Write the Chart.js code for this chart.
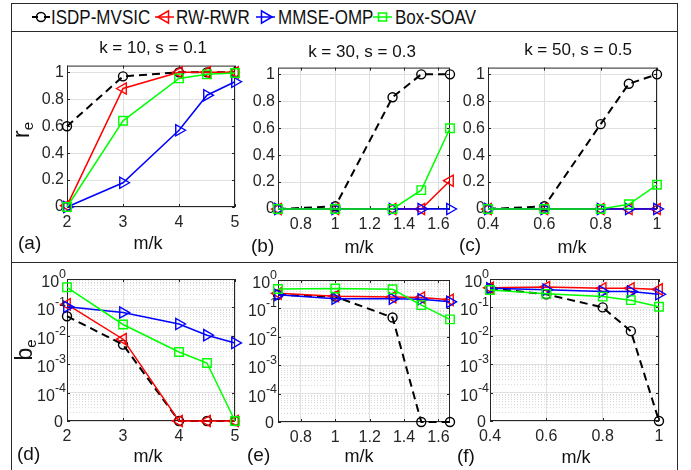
<!DOCTYPE html>
<html>
<head>
<meta charset="utf-8">
<script src="https://cdn.jsdelivr.net/npm/chart.js@4.4.0/dist/chart.umd.min.js"></script>
<style>
  body { margin:0; background:#fff; width:691px; height:470px; position:relative; overflow:hidden;
         font-family:"Liberation Sans", Arial, sans-serif; color:#111; }
  canvas { position:absolute; }
  .hline { position:absolute; height:0; border-top:1.5px solid #2a2a2a; }
  .vline { position:absolute; width:0; border-left:1.5px solid #2a2a2a; }
  .title { position:absolute; font-size:17px; transform:translate(-50%,-50%); white-space:nowrap; }
  .xlab { position:absolute; font-size:18px; transform:translate(-50%,-50%); white-space:nowrap; }
  .plab { position:absolute; font-size:19px; transform:translateY(-50%); }
  .ylab { position:absolute; font-size:23px; transform:translate(-50%,-50%) rotate(-90deg); white-space:nowrap; }
  .ylab sub { font-size:15px; vertical-align:-4px; }
  .leg { position:absolute; top:4px; font-size:21px; line-height:26px; transform-origin:left center;
         transform:scaleX(0.81); white-space:nowrap; }
</style>
</head>
<body>

<!-- figure frame -->
<div class="hline" style="left:11px; top:3px; width:667px;"></div>
<div class="hline" style="left:11px; top:31px; width:667px;"></div>
<div class="hline" style="left:11px; top:262px; width:667px;"></div>
<div class="vline" style="left:11px; top:3px; height:467px;"></div>
<div class="vline" style="left:677px; top:3px; height:467px;"></div>

<!-- legend -->
<svg style="position:absolute; left:0; top:0;" width="691" height="34">
  <line x1="32" y1="17" x2="50" y2="17" stroke="#000" stroke-width="2" stroke-dasharray="6,6"/>
  <circle cx="41" cy="17" r="4.5" fill="none" stroke="#000" stroke-width="1.5"/>
  <line x1="155" y1="17" x2="174" y2="17" stroke="#ff0000" stroke-width="1.5"/>
  <polygon points="158,17 168.5,10.9 168.5,23.1" fill="none" stroke="#ff0000" stroke-width="1.5"/>
  <line x1="256" y1="17" x2="275" y2="17" stroke="#0000ff" stroke-width="1.5"/>
  <polygon points="272,17 261.5,10.9 261.5,23.1" fill="none" stroke="#0000ff" stroke-width="1.5"/>
  <line x1="373" y1="17" x2="392" y2="17" stroke="#00ff00" stroke-width="1.5"/>
  <rect x="378.5" y="13" width="8" height="8" fill="none" stroke="#00ff00" stroke-width="1.5"/>
</svg>
<div class="leg" style="left:51px;">ISDP-MVSIC</div>
<div class="leg" style="left:176px;">RW-RWR</div>
<div class="leg" style="left:278px;">MMSE-OMP</div>
<div class="leg" style="left:395px;">Box-SOAV</div>

<!-- panels -->
<canvas id="pa" width="237" height="182" style="left:12px; top:53px;"></canvas>
<canvas id="pb" width="241" height="182" style="left:223px; top:55px;"></canvas>
<canvas id="pc" width="238" height="182" style="left:433px; top:55px;"></canvas>
<canvas id="pd" width="237" height="182" style="left:12px; top:267px;"></canvas>
<canvas id="pe" width="241" height="182" style="left:223px; top:268px;"></canvas>
<canvas id="pf" width="238" height="182" style="left:435px; top:267px;"></canvas>

<div class="title" style="left:153px; top:48px;">k = 10, s = 0.1</div>
<div class="title" style="left:362px; top:52px;">k = 30, s = 0.3</div>
<div class="title" style="left:578px; top:50px;">k = 50, s = 0.5</div>

<div class="ylab" style="left:22px; top:130px;">r<sub>e</sub></div>
<div class="ylab" style="left:25px; top:350px;">b<sub>e</sub></div>

<div class="xlab" style="left:148px; top:243px;">m/k</div>
<div class="xlab" style="left:359px; top:247px;">m/k</div>
<div class="xlab" style="left:572px; top:247px;">m/k</div>
<div class="xlab" style="left:148px; top:456px;">m/k</div>
<div class="xlab" style="left:359px; top:456px;">m/k</div>
<div class="xlab" style="left:576px; top:457px;">m/k</div>

<div class="plab" style="left:18px; top:243px;">(a)</div>
<div class="plab" style="left:251px; top:246px;">(b)</div>
<div class="plab" style="left:459px; top:245px;">(c)</div>
<div class="plab" style="left:17px; top:454px;">(d)</div>
<div class="plab" style="left:247px; top:455px;">(e)</div>
<div class="plab" style="left:457px; top:456px;">(f)</div>

<script>
// m/k for each column
const mkA = [2, 3, 4, 4.5, 5];
const mkB = [0.667, 1, 1.333, 1.5, 1.667];
const mkC = [0.4, 0.6, 0.8, 0.9, 1];

const xTicksA = [2, 3, 4, 5];
const xLabelsA = ['2', '3', '4', '5'];
const xTicksB = [0.8, 1, 1.2, 1.4, 1.6];
const xLabelsB = ['0.8', '1', '1.2', '1.4', '1.6'];
const xTicksC = [0.4, 0.6, 0.8, 1];
const xLabelsC = ['0.4', '0.6', '0.8', '1'];

const reTicks = [0, 0.2, 0.4, 0.6, 0.8, 1];
const reTickLabels = ['0', '0.2', '0.4', '0.6', '0.8', '1'];
// be axis: 0 sits one decade under 10^-4
const beTicks = [-5, -4, -3, -2, -1, 0];
const beTickLabels = ['0', '10^-4', '10^-3', '10^-2', '10^-1', '10^0'];

const methods = ['ISDP-MVSIC', 'RW-RWR', 'MMSE-OMP', 'Box-SOAV'];

// r_e, k = 10
const reA_isdp  = [0.60, 0.97, 1.00, 1.00, 1.00];
const reA_rwrwr = [0.01, 0.88, 1.00, 1.00, 1.00];
const reA_mmse  = [0.00, 0.18, 0.57, 0.83, 0.93];
const reA_box   = [0.00, 0.64, 0.955, 0.985, 0.995];
// r_e, k = 30
const reB_isdp  = [0.00, 0.02, 0.83, 1.00, 1.00];
const reB_rwrwr = [0, 0, 0, 0, 0.21];
const reB_mmse  = [0, 0, 0, 0, 0];
const reB_box   = [0, 0, 0, 0.14, 0.60];
// r_e, k = 50
const reC_isdp  = [0.00, 0.02, 0.63, 0.93, 1.00];
const reC_rwrwr = [0, 0, 0, 0, 0];
const reC_mmse  = [0, 0, 0, 0, 0];
const reC_box   = [0, 0, 0, 0.035, 0.18];

// b_e, k = 10
const beD_isdp  = [0.049, 0.0049, 0, 0, 0];
const beD_rwrwr = [0.128, 0.0076, 0, 0, 0];
const beD_mmse  = [0.105, 0.066, 0.026, 0.0105, 0.0056];
const beD_box   = [0.51, 0.025, 0.0027, 0.0011, 0];
// b_e, k = 30
const beE_isdp  = [0.30, 0.26, 0.048, 0, 0];
const beE_rwrwr = [0.34, 0.27, 0.25, 0.24, 0.20];
const beE_mmse  = [0.30, 0.22, 0.22, 0.21, 0.17];
const beE_box   = [0.48, 0.50, 0.47, 0.13, 0.041];
// b_e, k = 50
const beF_isdp  = [0.47, 0.29, 0.10, 0.0146, 0];
const beF_rwrwr = [0.49, 0.52, 0.47, 0.47, 0.43];
const beF_mmse  = [0.47, 0.42, 0.36, 0.36, 0.29];
const beF_box   = [0.41, 0.30, 0.24, 0.18, 0.105];

var FONT = '"Liberation Sans", Arial, sans-serif';
var TXT = '#262626';

var looks = [
  {color: '#000000', pointStyle: 'circle',   radius: 4.5, rot: 0,   dash: [8, 5], width: 2,   order: 4},
  {color: '#ff0000', pointStyle: 'triangle', radius: 6.5, rot: -90, dash: [],     width: 1.5, order: 3},
  {color: '#0000ff', pointStyle: 'triangle', radius: 6.5, rot: 90,  dash: [],     width: 1.5, order: 2},
  {color: '#00ff00', pointStyle: 'rect',     radius: 6,   rot: 0,   dash: [],     width: 1.5, order: 1}
];

function toLog(v) {
  return v <= 0 ? -5 : Math.log10(v);
}

// box, inward ticks, minor log grid, and 10^n labels
var boxer = {
  id: 'boxer',
  beforeDatasetsDraw: function(chart, args, opts) {
    var ctx = chart.ctx, a = chart.chartArea, sx = chart.scales.x, sy = chart.scales.y;
    ctx.save();
    if (opts.log) {
      ctx.strokeStyle = '#dadada';
      ctx.lineWidth = 1;
      ctx.setLineDash([1, 2]);
      for (var d = -5; d < 0; d++) {
        for (var m = 2; m <= 9; m++) {
          var yy = Math.round(sy.getPixelForValue(d + Math.log10(m))) + 0.5;
          ctx.beginPath(); ctx.moveTo(a.left, yy); ctx.lineTo(a.right, yy); ctx.stroke();
        }
      }
      ctx.setLineDash([]);
    }
    ctx.strokeStyle = '#262626';
    ctx.lineWidth = 1;
    ctx.strokeRect(a.left + 0.5, a.top + 0.5, a.right - a.left - 1, a.bottom - a.top - 1);
    ctx.beginPath();
    sx.ticks.forEach(function(t) {
      var x = Math.round(sx.getPixelForValue(t.value)) + 0.5;
      ctx.moveTo(x, a.bottom); ctx.lineTo(x, a.bottom - 3);
      ctx.moveTo(x, a.top); ctx.lineTo(x, a.top + 3);
    });
    sy.ticks.forEach(function(t) {
      var y = Math.round(sy.getPixelForValue(t.value)) + 0.5;
      ctx.moveTo(a.left, y); ctx.lineTo(a.left + 3, y);
      ctx.moveTo(a.right, y); ctx.lineTo(a.right - 3, y);
    });
    ctx.stroke();
    ctx.restore();
  },
  afterDraw: function(chart, args, opts) {
    if (!opts.log) return;
    var ctx = chart.ctx, a = chart.chartArea, sy = chart.scales.y;
    var right = a.left - 1;
    ctx.save();
    ctx.fillStyle = TXT;
    ctx.textAlign = 'left';
    ctx.textBaseline = 'alphabetic';
    beTicks.forEach(function(v, i) {
      var y = sy.getPixelForValue(v);
      var parts = beTickLabels[i].split('^');
      if (parts.length == 1) {
        ctx.font = '16px ' + FONT;
        ctx.fillText(parts[0], right - 3 - ctx.measureText(parts[0]).width, y + 6);
      } else {
        ctx.font = '12.5px ' + FONT;
        var we = ctx.measureText(parts[1]).width;
        ctx.fillText(parts[1], right - we, y - 1);
        ctx.font = '16px ' + FONT;
        var wb = ctx.measureText(parts[0]).width;
        ctx.fillText(parts[0], right - we - wb, y + 8);
      }
    });
    ctx.restore();
  }
};

function makePanel(id, xs, series, xTicks, xLabels, logY) {
  var datasets = series.map(function(vals, i) {
    var lk = looks[i];
    return {
      label: methods[i],
      data: vals.map(function(v, j) { return {x: xs[j], y: logY ? toLog(v) : v}; }),
      borderColor: lk.color,
      borderWidth: lk.width,
      borderDash: lk.dash,
      pointStyle: lk.pointStyle,
      pointRadius: lk.radius,
      pointRotation: lk.rot,
      pointBorderColor: lk.color,
      pointBackgroundColor: 'rgba(0,0,0,0)',
      pointBorderWidth: 1.4,
      tension: 0,
      clip: false,
      order: lk.order
    };
  });

  var yTicks = logY ? beTicks : reTicks;

  new Chart(document.getElementById(id), {
    type: 'line',
    data: {datasets: datasets},
    plugins: [boxer],
    options: {
      responsive: false,
      animation: false,
      events: [],
      layout: {padding: {top: 12, right: 14, left: 0, bottom: 0}},
      plugins: {
        legend: {display: false},
        tooltip: {enabled: false},
        boxer: {log: logY}
      },
      scales: {
        x: {
          type: 'linear',
          min: xs[0],
          max: xs[xs.length - 1],
          afterBuildTicks: function(s) { s.ticks = xTicks.map(function(v) { return {value: v}; }); },
          afterFit: function(s) { s.height = 28; },
          grid: {color: '#e0e0e0', drawTicks: false},
          border: {display: false},
          ticks: {
            font: {size: 16, family: FONT}, color: TXT, padding: 6,
            maxRotation: 0, autoSkip: false,
            callback: function(v, i) { return xLabels[i]; }
          }
        },
        y: {
          type: 'linear',
          min: logY ? -5 : 0,
          max: logY ? 0 : 1.05,
          afterBuildTicks: function(s) { s.ticks = yTicks.map(function(v) { return {value: v}; }); },
          afterFit: function(s) { s.width = 55; },
          grid: {color: '#e0e0e0', drawTicks: false},
          border: {display: false},
          ticks: {
            display: !logY,
            font: {size: 16, family: FONT}, color: TXT, padding: 3,
            autoSkip: false,
            callback: function(v, i) { return reTickLabels[i]; }
          }
        }
      }
    }
  });
}

makePanel('pa', mkA, [reA_isdp, reA_rwrwr, reA_mmse, reA_box], xTicksA, xLabelsA, false);
makePanel('pb', mkB, [reB_isdp, reB_rwrwr, reB_mmse, reB_box], xTicksB, xLabelsB, false);
makePanel('pc', mkC, [reC_isdp, reC_rwrwr, reC_mmse, reC_box], xTicksC, xLabelsC, false);
makePanel('pd', mkA, [beD_isdp, beD_rwrwr, beD_mmse, beD_box], xTicksA, xLabelsA, true);
makePanel('pe', mkB, [beE_isdp, beE_rwrwr, beE_mmse, beE_box], xTicksB, xLabelsB, true);
makePanel('pf', mkC, [beF_isdp, beF_rwrwr, beF_mmse, beF_box], xTicksC, xLabelsC, true);
</script>
</body>
</html>
